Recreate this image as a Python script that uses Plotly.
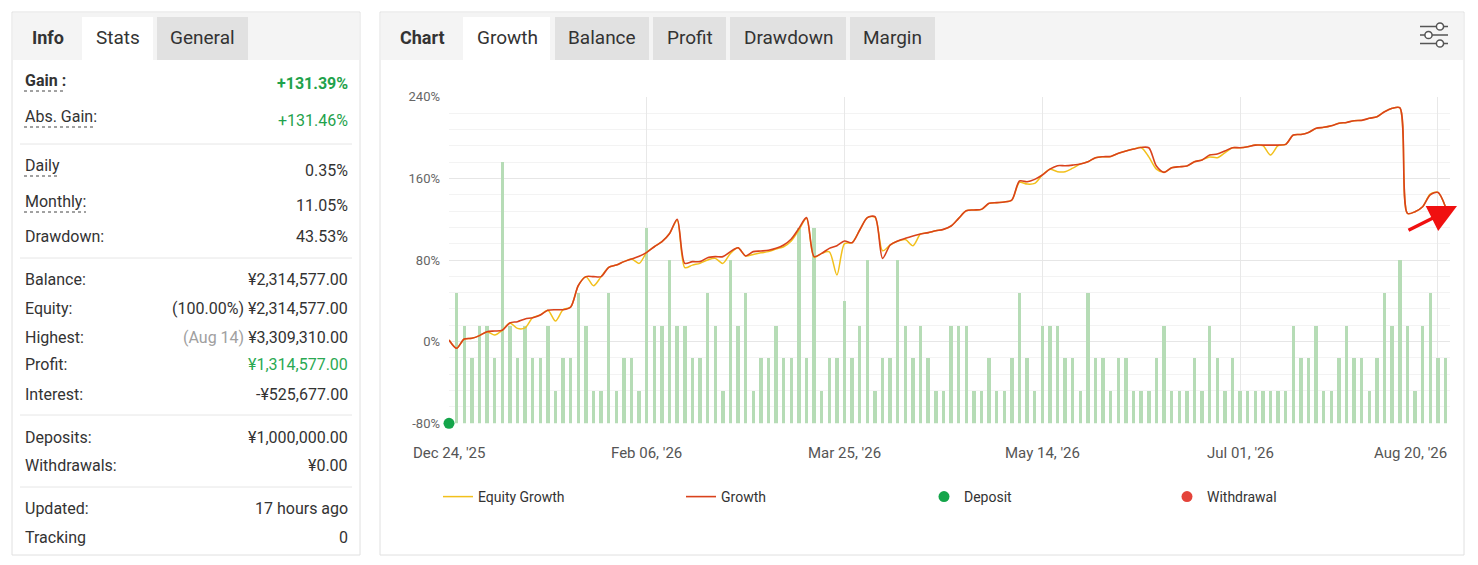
import plotly.graph_objects as go

# ---------------- data ----------------
# Growth (%) per day index (0 = Dec 24, '25)
growth = [1.6, -6.5, 2.6, 3.3, 5.9, 9.8, 10.4, 11.1, 18.3, 19.6,
          22.2, 23.5, 26.1, 30.7, 31.3, 31.3, 34.0, 55.0, 63.7, 63.7,
          63.7, 72.8, 75.1, 78.4, 81.0, 83.6, 87.5, 93.0, 98.0, 106.0,
          120.0, 76.7, 78.4, 78.4, 82.3, 83.3, 83.3, 88.2, 92.0, 84.0,
          88.2, 88.8, 89.5, 91.4, 94.7, 100.6, 111.0, 121.5, 83.3, 86.5,
          91.4, 94.0, 98.6, 97.0, 109.4, 121.5, 122.4, 81.6, 94.7, 98.6,
          101.2, 103.5, 105.5, 106.8, 108.7, 110.0, 113.3, 120.8, 128.3, 129.0,
          129.6, 135.5, 136.2, 136.8, 138.8, 157.4, 156.7, 159.0, 163.3, 169.0,
          172.4, 172.4, 173.0, 174.0, 176.3, 180.2, 181.2, 181.5, 184.5, 186.8,
          188.7, 190.3, 190.0, 172.0, 165.9, 170.4, 171.4, 172.0, 176.3, 178.0,
          182.8, 183.8, 186.8, 190.0, 190.0, 191.0, 192.6, 192.6, 192.6, 192.6,
          193.3, 202.4, 203.0, 205.0, 209.0, 210.0, 211.6, 213.9, 214.8, 216.5,
          216.8, 218.8, 220.4, 225.3, 228.6, 229.2, 125.7, 127.3, 132.2, 143.7,
          146.3, 132.2]

# Equity Growth (%) per day index
equity = [1.6, -6.5, 2.6, 3.3, 5.9, 9.8, 6.5, 11.1, 18.3, 13.0,
          13.5, 23.5, 26.1, 30.7, 20.2, 31.3, 34.0, 55.0, 63.7, 54.8,
          63.7, 72.8, 75.1, 78.4, 81.0, 76.7, 87.5, 93.0, 98.0, 106.0,
          119.0, 72.5, 75.0, 76.7, 80.0, 81.6, 76.7, 86.5, 92.0, 84.0,
          85.5, 87.0, 88.2, 90.7, 93.0, 98.6, 109.4, 120.8, 82.6, 86.5,
          88.0, 65.3, 96.0, 97.0, 109.4, 121.5, 122.0, 89.0, 94.7, 98.6,
          100.0, 94.0, 105.5, 106.8, 108.7, 110.0, 113.3, 120.8, 128.3, 129.0,
          129.6, 135.5, 136.2, 136.8, 138.8, 156.0, 154.4, 155.0, 163.3, 169.0,
          166.5, 166.5, 170.0, 174.0, 176.3, 180.2, 181.2, 181.5, 184.5, 186.8,
          188.7, 190.3, 181.0, 169.0, 165.9, 170.4, 171.4, 172.0, 176.3, 178.0,
          181.0, 180.2, 185.0, 190.0, 190.0, 191.0, 192.6, 192.0, 182.8, 192.0,
          193.3, 202.4, 203.0, 205.0, 209.0, 210.0, 211.6, 213.9, 214.8, 216.5,
          216.8, 218.8, 220.4, 225.3, 228.6, 229.2, 125.7, 127.3, 132.2, 144.5,
          146.3, 132.2]

# Daily bars (day index 1 .. 131)
trades = [4, 3, 2, 3, 3, 2, 8, 3, 2, 3,
          2, 2, 3, 1, 2, 2, 4, 3, 1, 1,
          4, 1, 2, 2, 1, 6, 3, 3, 5, 3,
          3, 2, 2, 4, 3, 1, 5, 3, 4, 1,
          2, 2, 3, 2, 2, 6, 2, 6, 1, 2,
          2, 3.75, 2, 3, 5, 1, 2, 2, 5, 3,
          2, 3, 2, 1, 1, 3, 3, 3, 1, 1,
          2, 1, 1, 2, 4, 2, 1, 3, 3, 3,
          2, 2, 1, 4, 2, 2, 1, 2, 2, 1,
          1, 1, 2, 3, 1, 1, 1, 2, 1, 3,
          2, 1, 2, 1, 1, 1, 1, 1, 1, 1,
          3, 2, 2, 3, 1, 1, 2, 3, 2, 2,
          1, 2, 4, 3, 5, 3, 1, 3, 4, 2,
          2]

days = list(range(len(growth)))
trade_days = days[1:]

x_tick_pos = [0, 26, 52, 78, 104, 130]
x_tick_labels = ["Dec 24, '25", "Feb 06, '26", "Mar 25, '26",
                 "May 14, '26", "Jul 01, '26", "Aug 20, '26"]
y_tick_vals = [-80, 0, 80, 160, 240]
y_tick_labels = ["-80%", "0%", "80%", "160%", "240%"]

deposit_x = [0]
deposit_y = [-80]

# ---------------- layout helpers ----------------
W, H = 1462, 549
OFF = 8
FONT = "Roboto"


def fx(px):
    return (px - OFF) / W


def fy(py):
    return 1 - (py - OFF) / H


fig = go.Figure()

fig.add_trace(go.Bar(x=trade_days, y=trades, yaxis="y", xaxis="x",
                     marker=dict(color="#b6dcb6", line=dict(width=0)),
                     width=0.45, showlegend=False, hoverinfo="skip"))
fig.add_trace(go.Scatter(x=days, y=equity, yaxis="y2", xaxis="x", mode="lines",
                         name="Equity Growth",
                         line=dict(color="#f2c01c", width=1.5, shape="spline", smoothing=0.8)))
fig.add_trace(go.Scatter(x=days, y=growth, yaxis="y2", xaxis="x", mode="lines",
                         name="Growth",
                         line=dict(color="#d9421c", width=1.6, shape="spline", smoothing=0.8)))
fig.add_trace(go.Scatter(x=deposit_x, y=deposit_y, yaxis="y2", xaxis="x", mode="markers",
                         name="Deposit", cliponaxis=False,
                         marker=dict(color="#14a54a", size=11)))
fig.add_trace(go.Scatter(x=[None], y=[None], yaxis="y2", xaxis="x", mode="markers",
                         name="Withdrawal",
                         marker=dict(color="#e4433a", size=11)))

shapes = []
annotations = []


def rect(x0, y0, x1, y1, fill, line=None):
    shapes.append(dict(type="rect", xref="paper", yref="paper",
                       x0=fx(x0), x1=fx(x1), y0=fy(y1), y1=fy(y0),
                       fillcolor=fill,
                       line=dict(color=line or "rgba(0,0,0,0)", width=1 if line else 0),
                       layer="below"))


def hline(x0, x1, y, color, dash="solid", width=1):
    shapes.append(dict(type="line", xref="paper", yref="paper",
                       x0=fx(x0), x1=fx(x1), y0=fy(y), y1=fy(y),
                       line=dict(color=color, width=width, dash=dash), layer="above"))


def text(px, py, s, size=16, color="#333333", anchor="left", bold=False):
    annotations.append(dict(xref="paper", yref="paper", x=fx(px), y=fy(py),
                            text=("<b>%s</b>" % s) if bold else s,
                            showarrow=False, xanchor=anchor, yanchor="middle",
                            font=dict(family=FONT, size=size, color=color)))


# ---- left panel ----
rect(12, 12, 360, 555, "white", "#e0e0e0")
rect(13, 13, 359, 60, "#f4f4f4")
rect(82, 17, 153, 60, "white")
rect(157, 17, 248, 60, "#e1e1e1")
text(48, 38, "Info", size=18, color="#333", anchor="center", bold=True)
text(118, 38, "Stats", size=19, color="#333", anchor="center")
text(202, 38, "General", size=19, color="#333", anchor="center")

GREEN = "#1fa24c"
rows = [
    ("Gain :", 81, "+131.39%", 84, GREEN, True),
    ("Abs. Gain:", 116, "+131.46%", 120, GREEN, False),
    ("Daily", 166, "0.35%", 170, "#333", False),
    ("Monthly:", 201, "11.05%", 205, "#333", False),
    ("Drawdown:", 237, "43.53%", 237, "#333", False),
    ("Balance:", 279, "¥2,314,577.00", 279, "#333", False),
    ("Equity:", 308, "<span style='color:#333'>(100.00%)</span> ¥2,314,577.00", 308, "#333", False),
    ("Highest:", 337, "<span style='color:#a0a0a0'>(Aug 14)</span> ¥3,309,310.00", 337, "#333", False),
    ("Profit:", 365, "¥1,314,577.00", 365, "#2aa952", False),
    ("Interest:", 394, "-¥525,677.00", 394, "#333", False),
    ("Deposits:", 437, "¥1,000,000.00", 437, "#333", False),
    ("Withdrawals:", 465, "¥0.00", 465, "#333", False),
    ("Updated:", 508, "17 hours ago", 508, "#333", False),
    ("Tracking", 537, "0", 537, "#333", False),
]
for lab, ly, val, vy, vcol, bold in rows:
    text(23, ly, lab, size=16, color="#333", bold=bold)
    text(350, vy, val, size=16, color=vcol, anchor="right", bold=bold)

for (x0, x1, yy) in [(24, 65, 91), (24, 96, 127), (24, 58, 176), (24, 86, 212)]:
    hline(x0, x1, yy, "#444444", dash="dot", width=1)
for yy in [144, 258, 415, 487]:
    hline(20, 352, yy, "#e6e6e6")

# ---- right panel ----
rect(380, 12, 1464, 555, "white", "#e0e0e0")
rect(381, 13, 1463, 60, "#f4f4f4")
rect(463, 17, 550, 60, "white")
for (a, b) in [(555, 649), (653, 726), (730, 846), (850, 935)]:
    rect(a, 17, b, 60, "#e1e1e1")
text(423, 38, "Chart", size=18, color="#333", anchor="center", bold=True)
for cx, s in [(507, "Growth"), (602, "Balance"), (689.5, "Profit"), (788, "Drawdown"), (892.5, "Margin")]:
    text(cx, 38, s, size=19, color="#333", anchor="center")

# settings icon
for (yy, cxp) in [(26.5, 1440), (35, 1428.5), (43.5, 1440)]:
    hline(1420, 1448, yy, "#555555", width=1.5)
    r = 3.6
    shapes.append(dict(type="circle", xref="paper", yref="paper",
                       x0=fx(cxp - r), x1=fx(cxp + r), y0=fy(yy + r), y1=fy(yy - r),
                       fillcolor="white", line=dict(color="#555555", width=1.5), layer="above"))

# x tick labels (positions on the chart's x axis)
for pos, lab in zip(x_tick_pos, x_tick_labels):
    shift = -27 if pos == x_tick_pos[-1] else 0
    annotations.append(dict(xref="x", yref="paper", x=pos, y=fy(453), text=lab,
                            showarrow=False, xanchor="center", yanchor="middle", xshift=shift,
                            font=dict(family=FONT, size=15, color="#555555")))

# red arrow
annotations.append(dict(xref="paper", yref="paper", x=fx(1457), y=fy(206), text="",
                        ax=-50, ay=25, axref="pixel", ayref="pixel",
                        showarrow=True, arrowhead=2, arrowsize=1.6, arrowwidth=3.5,
                        arrowcolor="#f01010", standoff=0, startstandoff=0))

fig.update_layout(
    width=W, height=H, autosize=False,
    margin=dict(l=0, r=0, t=0, b=0, pad=0, autoexpand=False),
    paper_bgcolor="white", plot_bgcolor="rgba(0,0,0,0)",
    font=dict(family=FONT, color="#333"),
    bargap=0,
    xaxis=dict(domain=[fx(449), fx(1450)], range=[0, 131.6],
               tickvals=x_tick_pos, showticklabels=False, ticks="",
               showgrid=True, gridcolor="#e8e8e8", gridwidth=1, automargin=False,
               zeroline=False, showline=False, fixedrange=True),
    yaxis=dict(domain=[fy(423.3), fy(96.7)], range=[0, 10], visible=False,
               showgrid=False, zeroline=False, fixedrange=True, automargin=False),
    yaxis2=dict(overlaying="y", side="left", anchor="x", range=[-80, 240],
                tickvals=y_tick_vals, ticktext=y_tick_labels, ticks="",
                ticklabelstandoff=8,
                tickfont=dict(family=FONT, size=13, color="#666666"),
                showgrid=True, gridcolor="#e6e6e6", gridwidth=1, automargin=False,
                minor=dict(tick0=-80, dtick=16, showgrid=True, gridcolor="#f3f3f3", gridwidth=1),
                zeroline=False, showline=False, fixedrange=True),
    legend=dict(orientation="h", x=fx(438), y=fy(497), xanchor="left", yanchor="middle",
                font=dict(family=FONT, size=14, color="#333333"),
                entrywidth=198, entrywidthmode="pixels", bgcolor="rgba(0,0,0,0)",
                itemclick=False, itemdoubleclick=False),
    shapes=shapes,
    annotations=annotations,
    showlegend=True,
)

fig.write_html("out.html")
